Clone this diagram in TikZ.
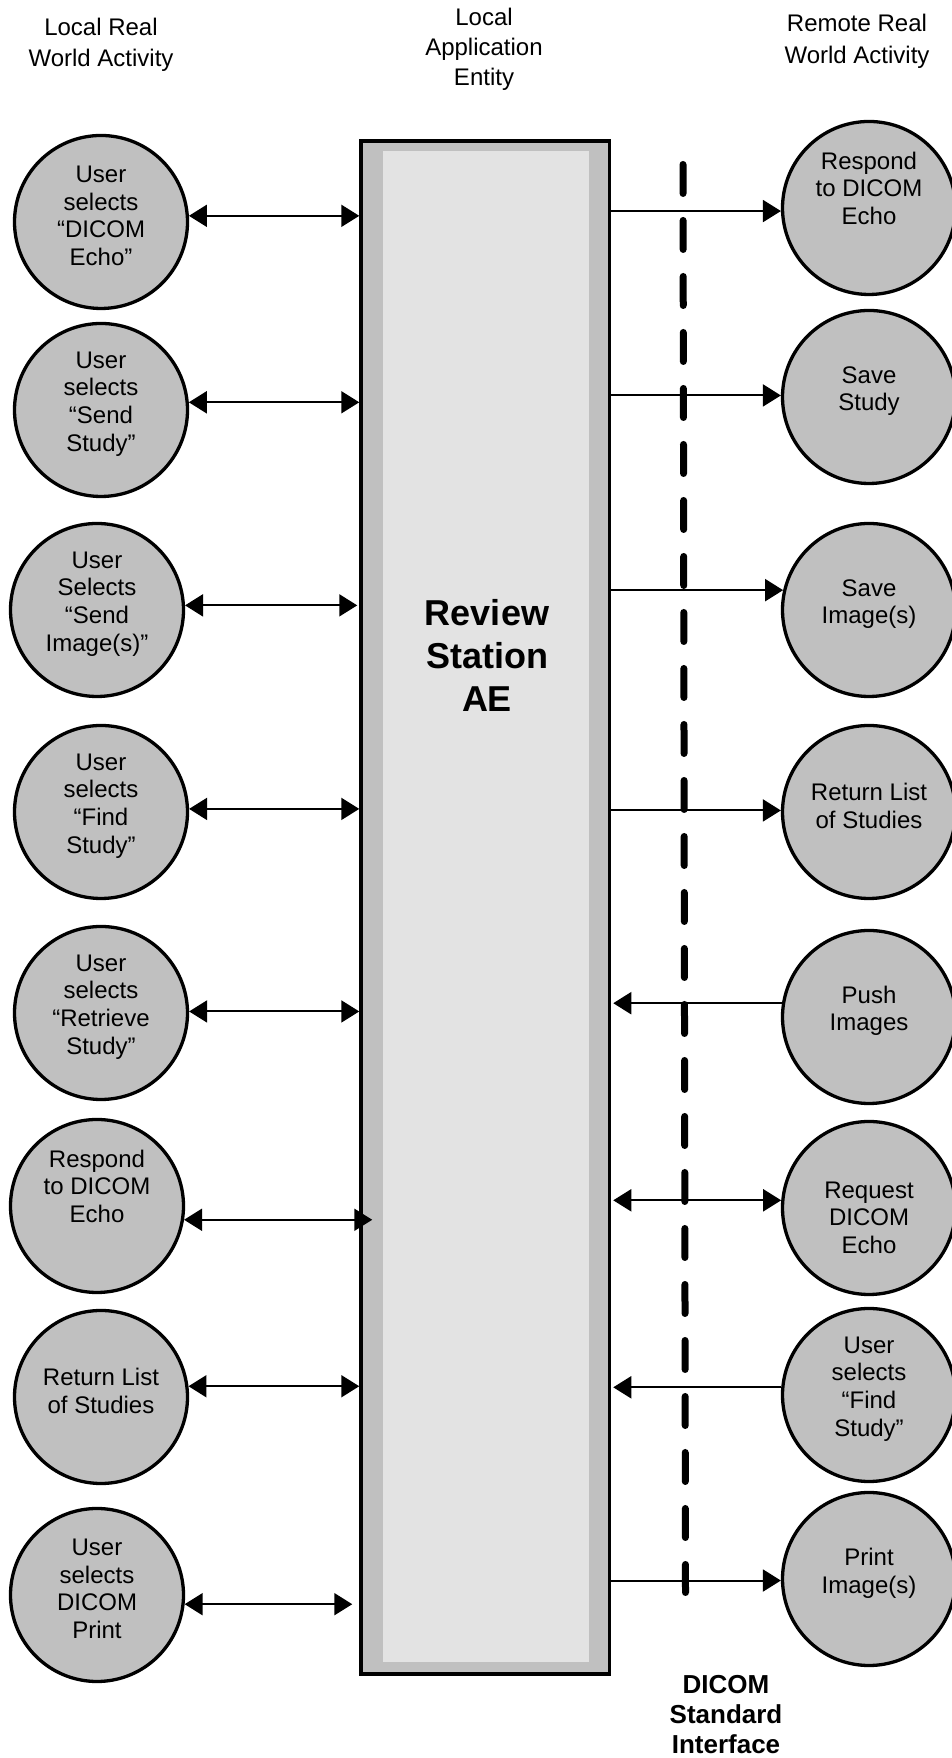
\documentclass[tikz,border=0pt]{standalone}
\usepackage{fontspec}
\setmainfont{Liberation Sans}
\usetikzlibrary{arrows.meta}

\begin{document}
\begin{tikzpicture}[x=1pt,y=1pt,
  >={Triangle[length=18pt,width=22pt]},
  act/.style={circle,draw=drawColor,fill=circleFill,line width=3.3pt,minimum size=173pt,inner sep=0pt},
  txt/.style={align=center,inner sep=0pt,yshift=6pt,font=\fontsize{24}{27.6}\selectfont},
  head/.style={align=center,inner sep=0pt,font=\fontsize{24}{31}\selectfont},
  flow/.style={draw=drawColor,line width=2pt,->},
  flow2/.style={draw=drawColor,line width=2pt,<->}]
\definecolor{drawColor}{RGB}{0,0,0}
\definecolor{circleFill}{RGB}{192,192,192}
\definecolor{boxFill}{RGB}{192,192,192}
\definecolor{innerFill}{RGB}{227,227,227}
\path[use as bounding box,fill=white] (0,0) rectangle (952,1758);
\clip (0,0) rectangle (952,1758);

% column headings
\node[head] (hl) at (101,1713) {Local Real\\World Activity};

\node[head,font=\fontsize{24}{30}\selectfont] (hm) at (484,1709) {Local\\Application\\Entity};

\node[head,font=\fontsize{24}{32}\selectfont] (hr) at (857,1717) {Remote Real\\World Activity};

% application entity
\node[draw=drawColor,fill=boxFill,line width=3.5pt,minimum width=248.5pt,minimum height=1533pt,inner sep=0pt] (ae) at (485.25,850.5) {};

\path[fill=innerFill] (383,96) rectangle (589,1607);

\node[align=center,inner sep=0pt,font=\bfseries\fontsize{36}{43}\selectfont] (aelbl) at (487,1102.5) {Review\\Station\\AE};

% DICOM interface
\path[draw=drawColor,line width=7pt,line cap=round,dash pattern=on 29pt off 27pt] (683,1593.5) -- (685.5,165.5);

\node[align=center,inner sep=0pt,font=\bfseries\fontsize{26}{30}\selectfont] (dsi) at (726,43) {DICOM\\Standard\\Interface};

% local activities
\node[act,label={[txt]center:{User\\selects\\“DICOM\\Echo”}}] (L1) at (101,1536) {};

\node[act,label={[txt]center:{User\\selects\\“Send\\Study”}}] (L2) at (101,1348) {};

\node[act,label={[txt]center:{User\\Selects\\“Send\\Image(s)”}}] (L3) at (97,1148) {};

\node[act,label={[txt]center:{User\\selects\\“Find\\Study”}}] (L4) at (101,946) {};

\node[act,label={[txt]center:{User\\selects\\“Retrieve\\Study”}}] (L5) at (101,745) {};

\node[act,label={[txt]center:{Respond\\to DICOM\\Echo\\\mbox{}}}] (L6) at (97,552) {};

\node[act,label={[txt]center:{Return List\\of Studies}}] (L7) at (101,361) {};

\node[act,label={[txt]center:{User\\selects\\DICOM\\Print}}] (L8) at (97,163) {};

% remote activities
\node[act,label={[txt]center:{Respond\\to DICOM\\Echo\\\mbox{}}}] (R1) at (869,1550) {};

\node[act,label={[txt]center:{Save\\Study}}] (R2) at (869,1361) {};

\node[act,label={[txt]center:{Save\\Image(s)}}] (R3) at (869,1148) {};

\node[act,label={[txt]center:{Return List\\of Studies}}] (R4) at (869,946) {};

\node[act,label={[txt]center:{Push\\Images}}] (R5) at (869,741) {};

\node[act,label={[txt,yshift=-10pt]center:{\mbox{}\\Request\\DICOM\\Echo}}] (R6) at (869,550) {};

\node[act,label={[txt]center:{User\\selects\\“Find\\Study”}}] (R7) at (869,363) {};

\node[act,label={[txt]center:{Print\\Image(s)}}] (R8) at (869,179) {};

% local side
\draw[flow2] (L1.4) -- (L1.4 -| ae.west);

\draw[flow2] (L2.5) -- (L2.5 -| ae.west);

\draw[flow2,shorten >=2pt] (L3.3) -- (L3.3 -| ae.west);

\draw[flow2] (L4.2) -- (L4.2 -| ae.west);

\draw[flow2] (L5.1) -- (L5.1 -| ae.west);

\draw[flow2,shorten >=-13pt] (L6.-9) -- (L6.-9 -| ae.west);

\draw[flow2] (L7.7) -- (L7.7 -| ae.west);

\draw[flow2,shorten >=7pt] (L8.-6) -- (L8.-6 -| ae.west);

% remote side
\draw[flow] (R1.182 -| ae.east) -- (R1.182);

\draw[flow] (R2.179 -| ae.east) -- (R2.179);

\draw[flow] (R3.167 -| ae.east) -- (R3.167);

\draw[flow] (R4.179 -| ae.east) -- (R4.179);

\draw[flow,shorten >=2pt] (R5.171) -- (R5.171 -| ae.east);

\draw[flow2,shorten <=2pt] (R6.175 -| ae.east) -- (R6.175);

\draw[flow,shorten >=2pt] (R7.175) -- (R7.175 -| ae.east);

\draw[flow] (R8.181 -| ae.east) -- (R8.181);
\end{tikzpicture}
\end{document}
